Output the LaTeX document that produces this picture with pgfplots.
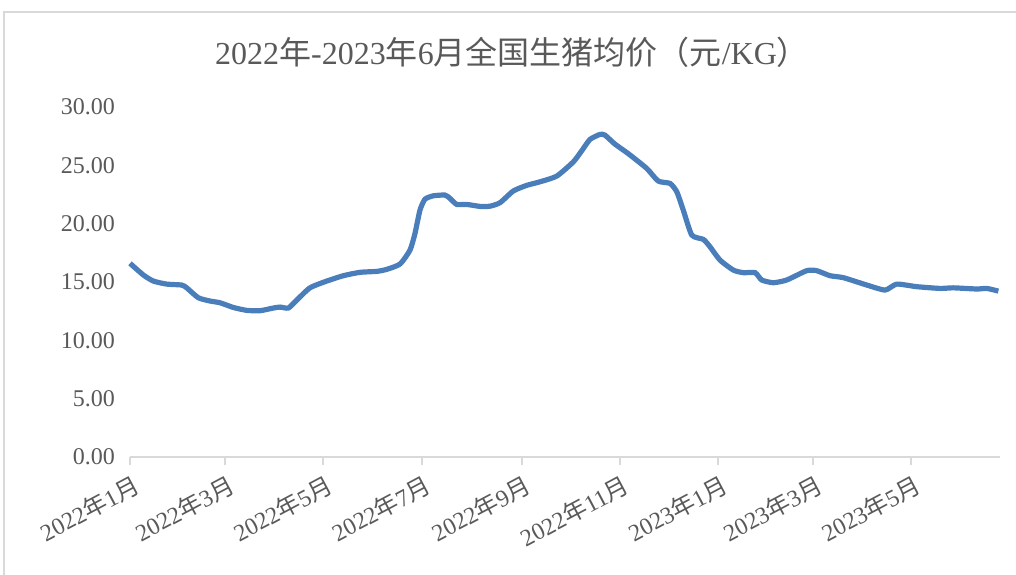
\documentclass[border=0pt]{standalone}
\usepackage{fontspec}
\setmainfont{Liberation Serif}
\newfontfamily\cjk{Noto Sans CJK SC}
\usepackage{pgfplots}
\pgfplotsset{compat=1.18}
\definecolor{linec}{RGB}{74,126,187}
\definecolor{txt}{RGB}{89,89,89}
\definecolor{axc}{RGB}{217,217,217}
\newcommand{\N}{{\cjk 年}}
\newcommand{\Y}{{\cjk 月}}
\begin{document}
\begin{tikzpicture}
\useasboundingbox (-65pt,-58.5pt) rectangle (443pt,228.5pt);
\draw[axc, line width=0.8pt] (-63pt,-70pt) -- (-63pt,222.5pt) -- (460pt,222.5pt);
\begin{axis}[
  scale only axis,
  width=435pt, height=175pt,
  xmin=0, xmax=540, ymin=0, ymax=30,
  axis x line*=bottom,
  axis y line*=left,
  y axis line style={draw=none},
  ytick={0,5,...,30},
  yticklabel style={text=txt, font=\fontsize{12}{13}\selectfont, xshift=0pt},
  /pgf/number format/assume math mode=true,
  /pgf/number format/.cd, fixed, fixed zerofill, precision=2, /pgfplots/.cd,
  xtick={0,59,120,181,243,304,365,424,485},
  xticklabels={2022\N1\Y,2022\N3\Y,2022\N5\Y,2022\N7\Y,2022\N9\Y,2022\N11\Y,2023\N1\Y,2023\N3\Y,2023\N5\Y},
  xticklabel style={text=txt, font=\fontsize{12}{13}\selectfont, rotate=28, anchor=north east, inner sep=1pt, yshift=-3pt},
  x axis line style={axc, line width=1pt, -},
  x tick style={axc, line width=1pt},
  tick align=outside,
  major tick length=4pt,
  ytick style={draw=none},
  title={2022\N-2023\N6\Y{\cjk 全国生猪均价（元}/KG{\cjk ）}},
  title style={at={(axis description cs:0.5,1)}, anchor=center, xshift=-26.5pt, yshift=21.5pt, text=txt, font=\fontsize{16}{18}\selectfont},
  clip=false,
]
\addplot[linec, line width=2.6pt, smooth, tension=0.35] coordinates {
(0,16.6) (8.3,15.6) (14.5,15.08) (22.8,14.82) (32.1,14.74) (35.2,14.5)
(42.4,13.65) (49.7,13.37) (55.9,13.22) (64.1,12.82) (72.4,12.57) (80.7,12.54)
(89,12.77) (93.1,12.85) (98.3,12.77) (103.5,13.45) (111.7,14.5) (122.1,15.08)
(132.4,15.54) (142.8,15.83) (153.1,15.91) (159.3,16.08) (167.6,16.54) (173.8,17.74)
(176.9,19.17) (180,21.17) (183.1,22.1) (188.3,22.39) (195.5,22.45) (198.6,22.17)
(202.8,21.65) (209,21.65) (217.3,21.48) (223.5,21.5) (229.7,21.8) (237.9,22.8)
(246.2,23.28) (254.5,23.59) (264.9,24.08) (275.2,25.3) (280.4,26.25) (285.5,27.22)
(291.7,27.65) (294.8,27.59) (301,26.82) (309.3,26.0) (320.7,24.74) (327.9,23.65)
(335.2,23.45) (339.4,22.73) (343.4,21.17) (348.7,19.02) (355.9,18.65) (360,18.02)
(366.2,16.88) (374.5,16.02) (380.7,15.8) (388,15.8) (392.1,15.17) (399.3,14.94)
(407.6,15.17) (420,15.97) (426.2,15.97) (434.5,15.54) (442.8,15.37) (457.3,14.74)
(468.7,14.31) (475.9,14.82) (488.3,14.6) (502.8,14.45) (511,14.5) (525.6,14.4)
(531.8,14.45) (539,14.22)
};
\end{axis}
\end{tikzpicture}
\end{document}
